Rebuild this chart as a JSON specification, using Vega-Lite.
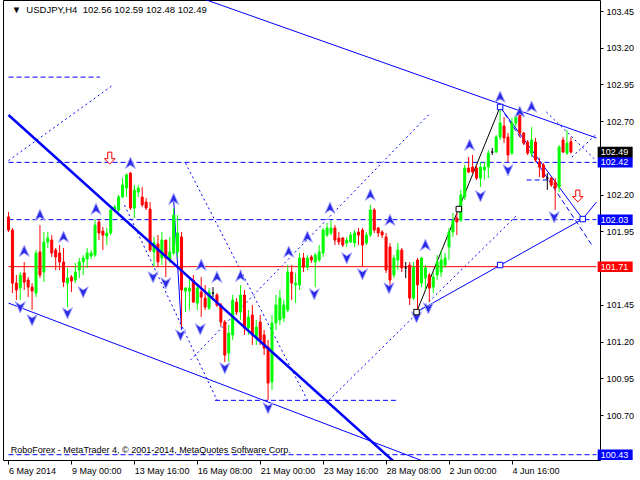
{
 "$schema": "https://vega.github.io/schema/vega-lite/v6.json",
 "width": 597, "height": 460,
 "autosize": {"type": "none"},
 "padding": {"left": 3, "top": 0, "right": 40, "bottom": 20},
 "background": "white",
 "config": {"view": {"stroke": "black", "strokeWidth": 1}, "font": "Liberation Sans",
   "axis": {"labelFontSize": 9, "labelFont": "Liberation Sans", "labelColor": "black", "tickColor": "black", "domain": false, "grid": false, "title": null}},
 "datasets": {
  "candles": [
{"i":0,"o":102.048,"h":102.082,"l":101.946,"c":101.959},
{"i":1,"o":101.959,"h":101.973,"l":101.530,"c":101.598},
{"i":2,"o":101.598,"h":101.653,"l":101.483,"c":101.551},
{"i":3,"o":101.564,"h":101.673,"l":101.483,"c":101.653},
{"i":4,"o":101.667,"h":101.742,"l":101.551,"c":101.605},
{"i":5,"o":101.619,"h":101.639,"l":101.503,"c":101.571},
{"i":6,"o":101.571,"h":101.598,"l":101.415,"c":101.544},
{"i":7,"o":101.530,"h":101.823,"l":101.503,"c":101.803},
{"i":8,"o":101.810,"h":101.993,"l":101.632,"c":101.653},
{"i":9,"o":101.673,"h":101.946,"l":101.605,"c":101.878},
{"i":10,"o":101.878,"h":101.946,"l":101.837,"c":101.905},
{"i":11,"o":101.891,"h":101.925,"l":101.776,"c":101.803},
{"i":12,"o":101.823,"h":101.837,"l":101.687,"c":101.776},
{"i":13,"o":101.803,"h":101.857,"l":101.687,"c":101.742},
{"i":14,"o":101.742,"h":101.837,"l":101.571,"c":101.605},
{"i":15,"o":101.598,"h":101.701,"l":101.435,"c":101.632},
{"i":16,"o":101.639,"h":101.653,"l":101.537,"c":101.612},
{"i":17,"o":101.619,"h":101.735,"l":101.598,"c":101.673},
{"i":18,"o":101.687,"h":101.769,"l":101.632,"c":101.742},
{"i":19,"o":101.742,"h":101.789,"l":101.653,"c":101.769},
{"i":20,"o":101.762,"h":101.837,"l":101.701,"c":101.803},
{"i":21,"o":101.782,"h":101.823,"l":101.762,"c":101.803},
{"i":22,"o":101.789,"h":102.034,"l":101.776,"c":101.993},
{"i":23,"o":102.014,"h":102.034,"l":101.891,"c":101.939},
{"i":24,"o":101.952,"h":101.980,"l":101.823,"c":101.925},
{"i":25,"o":101.918,"h":101.973,"l":101.857,"c":101.939},
{"i":26,"o":101.939,"h":102.100,"l":101.925,"c":102.096},
{"i":27,"o":102.096,"h":102.130,"l":102.082,"c":102.116},
{"i":28,"o":102.096,"h":102.198,"l":102.082,"c":102.184},
{"i":29,"o":102.184,"h":102.313,"l":102.177,"c":102.266},
{"i":30,"o":102.245,"h":102.347,"l":102.184,"c":102.334},
{"i":31,"o":102.347,"h":102.354,"l":102.096,"c":102.109},
{"i":32,"o":102.109,"h":102.266,"l":102.041,"c":102.232},
{"i":33,"o":102.218,"h":102.266,"l":102.184,"c":102.245},
{"i":34,"o":102.184,"h":102.252,"l":102.116,"c":102.130},
{"i":35,"o":102.150,"h":102.177,"l":102.096,"c":102.109},
{"i":36,"o":102.102,"h":102.150,"l":101.810,"c":101.823},
{"i":37,"o":101.810,"h":101.912,"l":101.707,"c":101.871},
{"i":38,"o":101.864,"h":101.925,"l":101.707,"c":101.742},
{"i":39,"o":101.769,"h":101.946,"l":101.721,"c":101.891},
{"i":40,"o":101.891,"h":101.891,"l":101.639,"c":101.769},
{"i":41,"o":101.755,"h":101.912,"l":101.735,"c":101.810},
{"i":42,"o":101.803,"h":102.109,"l":101.789,"c":102.061},
{"i":43,"o":101.810,"h":102.061,"l":101.776,"c":101.939},
{"i":44,"o":101.912,"h":101.946,"l":101.299,"c":101.551},
{"i":45,"o":101.544,"h":101.571,"l":101.401,"c":101.564},
{"i":46,"o":101.544,"h":101.639,"l":101.415,"c":101.564},
{"i":47,"o":101.619,"h":101.653,"l":101.462,"c":101.469},
{"i":48,"o":101.462,"h":101.585,"l":101.415,"c":101.564},
{"i":49,"o":101.537,"h":101.639,"l":101.367,"c":101.503},
{"i":50,"o":101.496,"h":101.585,"l":101.415,"c":101.435},
{"i":51,"o":101.428,"h":101.564,"l":101.415,"c":101.537},
{"i":52,"o":101.530,"h":101.571,"l":101.503,"c":101.530},
{"i":53,"o":101.517,"h":101.530,"l":101.435,"c":101.449},
{"i":54,"o":101.449,"h":101.462,"l":101.299,"c":101.333},
{"i":55,"o":101.333,"h":101.347,"l":101.061,"c":101.108},
{"i":56,"o":101.122,"h":101.313,"l":101.061,"c":101.258},
{"i":57,"o":101.245,"h":101.517,"l":101.211,"c":101.483},
{"i":58,"o":101.469,"h":101.496,"l":101.381,"c":101.401},
{"i":59,"o":101.401,"h":101.585,"l":101.347,"c":101.517},
{"i":60,"o":101.517,"h":101.551,"l":101.245,"c":101.292},
{"i":61,"o":101.292,"h":101.415,"l":101.245,"c":101.367},
{"i":62,"o":101.381,"h":101.449,"l":101.177,"c":101.245},
{"i":63,"o":101.231,"h":101.347,"l":101.177,"c":101.299},
{"i":64,"o":101.333,"h":101.381,"l":101.177,"c":101.211},
{"i":65,"o":101.245,"h":101.279,"l":101.108,"c":101.156},
{"i":66,"o":101.163,"h":101.211,"l":100.802,"c":100.918},
{"i":67,"o":100.925,"h":101.381,"l":100.870,"c":101.326},
{"i":68,"o":101.326,"h":101.517,"l":101.279,"c":101.449},
{"i":69,"o":101.347,"h":101.551,"l":101.313,"c":101.496},
{"i":70,"o":101.360,"h":101.483,"l":101.333,"c":101.449},
{"i":71,"o":101.415,"h":101.721,"l":101.401,"c":101.673},
{"i":72,"o":101.673,"h":101.721,"l":101.483,"c":101.598},
{"i":73,"o":101.585,"h":101.667,"l":101.462,"c":101.598},
{"i":74,"o":101.585,"h":101.803,"l":101.551,"c":101.769},
{"i":75,"o":101.769,"h":101.803,"l":101.673,"c":101.707},
{"i":76,"o":101.707,"h":101.789,"l":101.687,"c":101.769},
{"i":77,"o":101.776,"h":101.789,"l":101.735,"c":101.755},
{"i":78,"o":101.742,"h":101.803,"l":101.571,"c":101.789},
{"i":79,"o":101.755,"h":101.857,"l":101.742,"c":101.810},
{"i":80,"o":101.803,"h":101.973,"l":101.776,"c":101.959},
{"i":81,"o":101.925,"h":102.007,"l":101.912,"c":101.973},
{"i":82,"o":101.939,"h":102.027,"l":101.925,"c":101.973},
{"i":83,"o":101.973,"h":101.993,"l":101.857,"c":101.891},
{"i":84,"o":101.905,"h":101.946,"l":101.857,"c":101.878},
{"i":85,"o":101.905,"h":101.912,"l":101.844,"c":101.857},
{"i":86,"o":101.871,"h":101.912,"l":101.844,"c":101.891},
{"i":87,"o":101.878,"h":101.946,"l":101.871,"c":101.925},
{"i":88,"o":101.871,"h":101.959,"l":101.844,"c":101.939},
{"i":89,"o":101.946,"h":101.973,"l":101.857,"c":101.925},
{"i":90,"o":101.959,"h":101.973,"l":101.707,"c":101.857},
{"i":91,"o":101.871,"h":101.946,"l":101.857,"c":101.925},
{"i":92,"o":101.925,"h":102.130,"l":101.912,"c":102.096},
{"i":93,"o":102.096,"h":102.109,"l":101.939,"c":101.959},
{"i":94,"o":101.973,"h":101.980,"l":101.912,"c":101.939},
{"i":95,"o":101.946,"h":101.959,"l":101.905,"c":101.925},
{"i":96,"o":101.912,"h":101.939,"l":101.667,"c":101.687},
{"i":97,"o":101.844,"h":101.871,"l":101.551,"c":101.619},
{"i":98,"o":101.653,"h":101.789,"l":101.632,"c":101.769},
{"i":99,"o":101.755,"h":101.871,"l":101.687,"c":101.823},
{"i":100,"o":101.823,"h":101.837,"l":101.673,"c":101.701},
{"i":101,"o":101.701,"h":101.742,"l":101.632,"c":101.701},
{"i":102,"o":101.721,"h":101.742,"l":101.449,"c":101.496},
{"i":103,"o":101.496,"h":101.742,"l":101.483,"c":101.707},
{"i":104,"o":101.755,"h":101.769,"l":101.415,"c":101.585},
{"i":105,"o":101.598,"h":101.776,"l":101.571,"c":101.769},
{"i":106,"o":101.632,"h":101.721,"l":101.551,"c":101.701},
{"i":107,"o":101.653,"h":101.667,"l":101.469,"c":101.564},
{"i":108,"o":101.571,"h":101.667,"l":101.530,"c":101.639},
{"i":109,"o":101.653,"h":101.789,"l":101.619,"c":101.742},
{"i":110,"o":101.673,"h":101.823,"l":101.639,"c":101.755},
{"i":111,"o":101.721,"h":101.803,"l":101.701,"c":101.769},
{"i":112,"o":101.844,"h":101.973,"l":101.755,"c":101.946},
{"i":113,"o":101.946,"h":102.075,"l":101.912,"c":102.027},
{"i":114,"o":102.041,"h":102.075,"l":101.925,"c":102.014},
{"i":115,"o":102.027,"h":102.232,"l":102.014,"c":102.198},
{"i":116,"o":102.184,"h":102.402,"l":102.164,"c":102.381},
{"i":117,"o":102.381,"h":102.456,"l":102.347,"c":102.354},
{"i":118,"o":102.388,"h":102.470,"l":102.347,"c":102.354},
{"i":119,"o":102.381,"h":102.402,"l":102.300,"c":102.313},
{"i":120,"o":102.313,"h":102.422,"l":102.252,"c":102.388},
{"i":121,"o":102.368,"h":102.422,"l":102.300,"c":102.388},
{"i":122,"o":102.388,"h":102.504,"l":102.313,"c":102.483},
{"i":123,"o":102.490,"h":102.518,"l":102.470,"c":102.490},
{"i":124,"o":102.490,"h":102.606,"l":102.483,"c":102.592},
{"i":125,"o":102.592,"h":102.790,"l":102.572,"c":102.688},
{"i":126,"o":102.667,"h":102.729,"l":102.551,"c":102.586},
{"i":127,"o":102.592,"h":102.620,"l":102.422,"c":102.470},
{"i":128,"o":102.483,"h":102.722,"l":102.470,"c":102.688},
{"i":129,"o":102.688,"h":102.742,"l":102.660,"c":102.729},
{"i":130,"o":102.742,"h":102.756,"l":102.592,"c":102.620},
{"i":131,"o":102.620,"h":102.626,"l":102.538,"c":102.551},
{"i":132,"o":102.558,"h":102.572,"l":102.470,"c":102.483},
{"i":133,"o":102.483,"h":102.660,"l":102.456,"c":102.572},
{"i":134,"o":102.558,"h":102.586,"l":102.422,"c":102.436},
{"i":135,"o":102.422,"h":102.449,"l":102.320,"c":102.388},
{"i":136,"o":102.402,"h":102.415,"l":102.313,"c":102.320},
{"i":137,"o":102.313,"h":102.347,"l":102.232,"c":102.313},
{"i":138,"o":102.313,"h":102.320,"l":102.252,"c":102.266},
{"i":139,"o":102.286,"h":102.313,"l":102.096,"c":102.245},
{"i":140,"o":102.252,"h":102.538,"l":102.218,"c":102.524},
{"i":141,"o":102.572,"h":102.592,"l":102.483,"c":102.490},
{"i":142,"o":102.483,"h":102.640,"l":102.470,"c":102.551},
{"i":143,"o":102.56,"h":102.59,"l":102.48,"c":102.49}
  ],
  "lines": [
   {"x1":0,"p1":102.742,"x2":99.25,"p2":100.353,"s":"thick"},
   {"x1":46.75,"p1":103.559,"x2":149.5,"p2":102.586,"s":"thin"},
   {"x1":0,"p1":101.462,"x2":106.75,"p2":100.373,"s":"thin"},
   {"x1":103.75,"p1":101.401,"x2":146,"p2":102.034,"s":"thin"},
   {"x1":146,"p1":102.034,"x2":149.5,"p2":102.15,"s":"thin"},
   {"x1":125,"p1":102.797,"x2":146,"p2":102.034,"s":"thin"},
   {"x1":42,"p1":102.164,"x2":44,"p2":101.279,"s":"thin"},
   {"x1":103.75,"p1":101.401,"x2":125,"p2":102.797,"s":"black"},
   {"x1":0,"p1":103.0,"x2":23.25,"p2":103.0,"s":"dash"},
   {"x1":0,"p1":102.42,"x2":149.5,"p2":102.42,"s":"dash"},
   {"x1":0,"p1":102.03,"x2":149.5,"p2":102.03,"s":"dash"},
   {"x1":0,"p1":100.43,"x2":149.5,"p2":100.43,"s":"dash"},
   {"x1":52.5,"p1":100.80,"x2":98.5,"p2":100.80,"s":"dash"},
   {"x1":131.75,"p1":102.30,"x2":137.25,"p2":102.30,"s":"dash"},
   {"x1":125,"p1":102.797,"x2":148.5,"p2":101.85,"s":"dash"},
   {"x1":0,"p1":101.71,"x2":149.5,"p2":101.71,"s":"red"},
   {"x1":0,"p1":102.432,"x2":26.25,"p2":102.940,"s":"dot"},
   {"x1":29.5,"p1":102.129,"x2":53,"p2":100.802,"s":"dot"},
   {"x1":45,"p1":102.415,"x2":76,"p2":100.802,"s":"dot"},
   {"x1":46.25,"p1":101.074,"x2":107.25,"p2":102.756,"s":"dot"},
   {"x1":81.5,"p1":100.802,"x2":129.25,"p2":102.06,"s":"dot"},
   {"x1":136.75,"p1":102.763,"x2":149.25,"p2":102.436,"s":"dot"},
   {"x1":143.25,"p1":102.456,"x2":149.25,"p2":102.606,"s":"dot"}
  ],
  "up": [
   {"i":4,"p":101.816},{"i":8,"p":102.061},{"i":14,"p":101.912},{"i":22.25,"p":102.102},
   {"i":31,"p":102.415},{"i":42,"p":102.170},{"i":49,"p":101.721},{"i":53,"p":101.639},
   {"i":59,"p":101.646},{"i":71.25,"p":101.810},{"i":76,"p":101.912},{"i":81.75,"p":102.109},
   {"i":92,"p":102.198},{"i":97,"p":102.027},{"i":106,"p":101.857},{"i":117.25,"p":102.538},
   {"i":125,"p":102.865},{"i":130,"p":102.763},{"i":133,"p":102.797}
  ],
  "down": [
   {"i":3,"p":101.435},{"i":6,"p":101.347},{"i":15,"p":101.394},{"i":19,"p":101.537},
   {"i":36.75,"p":101.639},{"i":40,"p":101.598},{"i":43.75,"p":101.245},{"i":48.75,"p":101.285},
   {"i":55,"p":101.020},{"i":66,"p":100.748},{"i":77.75,"p":101.524},{"i":86,"p":101.769},
   {"i":90,"p":101.660},{"i":96.75,"p":101.564},{"i":103.75,"p":101.367},{"i":106.75,"p":101.428},
   {"i":120,"p":102.191},{"i":127,"p":102.368},{"i":138.75,"p":102.048}
  ],
  "sell": [{"i":25.75,"p":102.449},{"i":144.75,"p":102.191}],
  "boxes": [
   {"i":103.75,"p":101.401,"k":"black"},{"i":114.5,"p":102.102,"k":"black"},
   {"i":125,"p":102.797,"k":"blue"},{"i":125,"p":101.721,"k":"blue"},{"i":146,"p":102.034,"k":"blue"}
  ],
  "levels": [
   {"p":102.42,"t":"102.42","k":"blue"},{"p":102.49,"t":"102.49","k":"bid"},
   {"p":102.03,"t":"102.03","k":"blue"},{"p":101.71,"t":"101.71","k":"red"},{"p":100.43,"t":"100.43","k":"blue"}
  ]
 },
 "encoding": {
  "x": {"type": "quantitative", "scale": {"domain": [-0.125, 149.125], "nice": false, "zero": false},
    "axis": {"values":[0,16,32,48,64,80,96,112,128],"labelExpr":"datum.value==0?'6 May 2014':datum.value==16?'9 May 00:00':datum.value==32?'13 May 16:00':datum.value==48?'16 May 08:00':datum.value==64?'21 May 00:00':datum.value==80?'23 May 16:00':datum.value==96?'28 May 08:00':datum.value==112?'2 Jun 00:00':'4 Jun 16:00'","labelAlign":"left","labelPadding":2,"tickSize":4,"labelFlush":false,"labelOverlap":false}},
  "y": {"type": "quantitative", "scale": {"domain": [100.394, 103.525], "nice": false, "zero": false},
    "axis": {"orient":"right","values":[100.7,100.95,101.2,101.45,101.95,102.2,102.7,102.95,103.2,103.45],"format":".2f","tickSize":3,"labelPadding":3,"labelBaseline":"middle"}}
 },
 "layer": [
  {"data":{"name":"lines"},"transform":[{"filter":"datum.s=='dash'"}],
   "mark":{"type":"rule","color":"#0000ff","strokeWidth":1,"strokeDash":[5,3],"clip":true},
   "encoding":{"x":{"field":"x1"},"x2":{"field":"x2"},"y":{"field":"p1"},"y2":{"field":"p2"}}},
  {"data":{"name":"lines"},"transform":[{"filter":"datum.s=='dot'"}],
   "mark":{"type":"rule","color":"#0000ff","strokeWidth":1,"strokeDash":[2,3],"clip":true},
   "encoding":{"x":{"field":"x1"},"x2":{"field":"x2"},"y":{"field":"p1"},"y2":{"field":"p2"}}},
  {"data":{"name":"lines"},"transform":[{"filter":"datum.s=='red'"}],
   "mark":{"type":"rule","color":"#ff0000","strokeWidth":1,"clip":true},
   "encoding":{"x":{"field":"x1"},"x2":{"field":"x2"},"y":{"field":"p1"},"y2":{"field":"p2"}}},
  {"data":{"name":"lines"},"transform":[{"filter":"datum.s=='thin'"}],
   "mark":{"type":"rule","color":"#0000ff","strokeWidth":1,"clip":true},
   "encoding":{"x":{"field":"x1"},"x2":{"field":"x2"},"y":{"field":"p1"},"y2":{"field":"p2"}}},
  {"data":{"name":"lines"},"transform":[{"filter":"datum.s=='black'"}],
   "mark":{"type":"rule","color":"#000000","strokeWidth":1,"clip":true},
   "encoding":{"x":{"field":"x1"},"x2":{"field":"x2"},"y":{"field":"p1"},"y2":{"field":"p2"}}},
  {"data":{"name":"candles"},
   "mark":{"type":"rule","strokeWidth":1,"clip":true},
   "encoding":{"x":{"field":"i"},"y":{"field":"l"},"y2":{"field":"h"},
    "color":{"condition":[{"test":"datum.c > datum.o","value":"#00ff00"},{"test":"datum.c < datum.o","value":"#ff0000"}],"value":"#000000"}}},
  {"data":{"name":"candles"},
   "mark":{"type":"bar","width":2,"strokeWidth":1,"clip":true},
   "encoding":{"x":{"field":"i"},"y":{"field":"o"},"y2":{"field":"c"},
    "fill":{"condition":[{"test":"datum.c > datum.o","value":"#00ff00"},{"test":"datum.c < datum.o","value":"#ff0000"}],"value":"#000000"},
    "stroke":{"condition":[{"test":"datum.c > datum.o","value":"#00ff00"},{"test":"datum.c < datum.o","value":"#ff0000"}],"value":"#000000"}}},
  {"data":{"name":"lines"},"transform":[{"filter":"datum.s=='thick'"}],
   "mark":{"type":"rule","color":"#0000ff","strokeWidth":2.5,"clip":true},
   "encoding":{"x":{"field":"x1"},"x2":{"field":"x2"},"y":{"field":"p1"},"y2":{"field":"p2"}}},
  {"data":{"name":"up"},
   "mark":{"type":"point","shape":"M0,-1L0.85,0.9L0,0.35L-0.85,0.9Z","filled":true,"fill":"#2a2ae6","stroke":"#a8a8ff","strokeWidth":1,"size":140,"opacity":1,"clip":true},
   "encoding":{"x":{"field":"i"},"y":{"field":"p"}}},
  {"data":{"name":"down"},
   "mark":{"type":"point","shape":"M0,1L0.85,-0.9L0,-0.35L-0.85,-0.9Z","filled":true,"fill":"#2a2ae6","stroke":"#a8a8ff","strokeWidth":1,"size":140,"opacity":1,"clip":true},
   "encoding":{"x":{"field":"i"},"y":{"field":"p"}}},
  {"data":{"name":"sell"},
   "mark":{"type":"point","shape":"M-0.35,-1L0.35,-1L0.35,0.1L0.9,0.1L0,1L-0.9,0.1L-0.35,0.1Z","filled":true,"fill":"#ffffff","stroke":"#ff0000","strokeWidth":1,"size":140,"opacity":1},
   "encoding":{"x":{"field":"i"},"y":{"field":"p"}}},
  {"data":{"name":"boxes"},
   "mark":{"type":"point","shape":"square","filled":true,"fill":"#ffffff","strokeWidth":1,"size":30,"opacity":1},
   "encoding":{"x":{"field":"i"},"y":{"field":"p"},
    "stroke":{"field":"k","type":"nominal","scale":{"domain":["black","blue"],"range":["#000000","#0000ff"]},"legend":null}}},
  {"data":{"values":[{}]},
   "mark":{"type":"text","align":"left","baseline":"middle","fontSize":9,"font":"Liberation Sans","color":"black"},
   "encoding":{"x":{"datum":0.6},"y":{"datum":100.46},
    "text":{"value":"RoboForex - MetaTrader 4, © 2001-2014, MetaQuotes Software Corp."}}},
  {"data":{"values":[{}]},
   "mark":{"type":"text","align":"left","baseline":"middle","fontSize":9.5,"font":"Liberation Sans","color":"black"},
   "encoding":{"x":{"datum":0.8},"y":{"datum":103.458},
    "text":{"value":"▼\u00a0\u00a0USDJPY,H4\u00a0\u00a0102.56 102.59 102.48 102.49"}}},
  {"data":{"name":"levels"},
   "mark":{"type":"point","shape":"M-1,-0.3L1,-0.3L1,0.3L-1,0.3Z","filled":true,"size":1225,"opacity":1,"strokeWidth":0,"clip":false},
   "encoding":{"x":{"datum":154.25},"y":{"field":"p"},
    "fill":{"field":"k","type":"nominal","scale":{"domain":["bid","blue","red"],"range":["#000000","#0000ff","#ff0000"]},"legend":null}}},
  {"data":{"name":"levels"},
   "mark":{"type":"text","align":"left","baseline":"middle","fontSize":9,"font":"Liberation Sans","color":"white","clip":false},
   "encoding":{"x":{"datum":150.6},"y":{"field":"p"},"text":{"field":"t"}}}
 ]
}
